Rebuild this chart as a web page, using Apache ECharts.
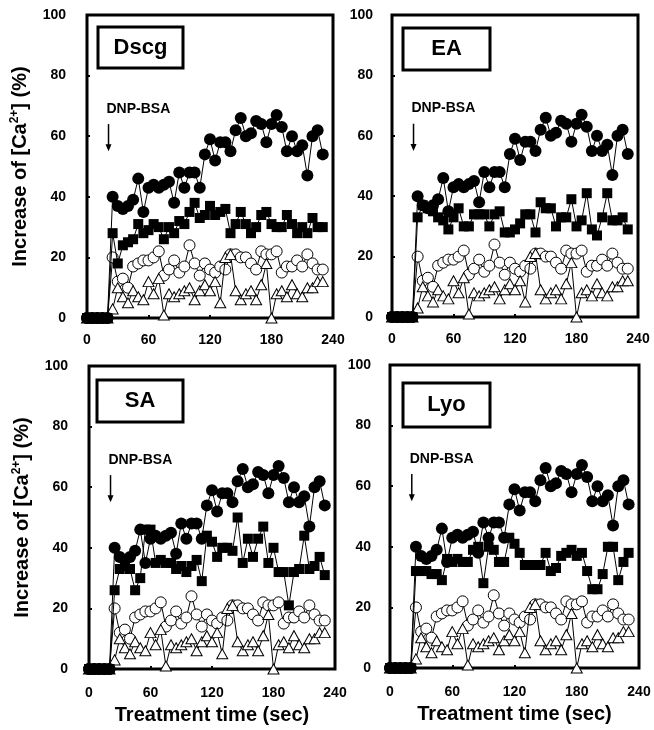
<!DOCTYPE html>
<html><head><meta charset="utf-8">
<script src="https://cdn.jsdelivr.net/npm/echarts@6/dist/echarts.min.js"></script>
<style>html,body{margin:0;padding:0;background:#fff}#c{width:654px;height:730px}</style>
</head><body><div id="c"></div>
<script>
const times = [0,5,10,15,20,25,30,35,40,45,50,55,60,65,70,75,80,85,90,95,100,105,110,115,120,125,130,135,140,145,150,155,160,165,170,175,180,185,190,195,200,205,210,215,220,225,230];
const control = [0,0,0,0,0,40,37,36,37,39,46,35,43,44,43,44,45,38,48,43,48,48,43,54,59,52,58,58,55,62,66,60,61,65,64,58,64,67,63,55,60,55,57,47,60,62,54];
const openCircle = [0,0,0,0,0,20,12,13,10,17,18,19,19,20,22,14,16,19,15,17,24,18,14,18,16,15,17,16,21,21,20,20,18,16,22,21,21,22,15,17,17,19,17,21,18,16,16];
const triangle = [0,0,0,0,0,3,10,7,5,9,7,6,12,8,13,1,8,7,8,9,10,6,9,11,9,12,5,20,21,9,6,8,9,6,11,18,0,8,9,7,11,8,7,10,10,12,12];
const dscg = [0,0,0,0,0,28,18,24,25,26,31,28,29,31,30,26,30,28,32,31,35,38,33,34,37,34,35,36,28,31,35,31,28,30,34,35,31,30,30,34,31,28,30,28,33,30,30];
const ea = [0,0,0,0,0,33,37,36,35,33,32,29,33,36,30,30,34,34,34,30,34,35,28,28,29,31,34,34,28,38,36,36,30,33,33,39,30,32,41,29,27,33,41,32,32,33,29];
const sa = [0,0,0,0,0,26,33,34,33,26,30,46,46,35,36,35,35,33,34,32,34,36,29,44,42,37,40,40,39,50,35,43,37,43,47,35,40,32,32,21,32,33,44,33,34,37,31];
const lyo = [0,0,0,0,0,32,32,32,31,31,29,36,35,36,35,35,39,40,28,40,39,35,35,43,41,38,34,34,34,34,38,32,33,37,38,39,37,38,32,26,26,31,40,40,29,35,38];
const panelNames = ['Dscg','EA','SA','Lyo'];
const panelSquares = [dscg, ea, sa, lyo];
const stimulusLabel = 'DNP-BSA';

const grids = [
  {left:87, top:15, width:246, height:303},
  {left:392, top:15, width:246, height:302},
  {left:89, top:366, width:246, height:303},
  {left:390, top:365, width:249, height:303}
];
const boxes = [
  {x:98, y:27, w:85, h:41},
  {x:403, y:28, w:87, h:42},
  {x:97, y:380, w:86, h:42},
  {x:403, y:383, w:87, h:44}
];
const FONT = '"Liberation Sans", Arial, sans-serif';
const pair = arr => times.map((t,j)=>[t, arr[j]]);

const xAxes = [], yAxes = [], series = [];
grids.forEach((g,i)=>{
  g.show = true; g.borderColor = '#000'; g.borderWidth = 3;
  const bottom = i >= 2, left = (i % 2 === 0);
  xAxes.push({
    type:'value', gridIndex:i, min:0, max:240, interval:60,
    axisLine:{show:false}, splitLine:{show:false},
    axisTick:{show:true, inside:true, length:3, lineStyle:{color:'#000', width:2}},
    axisLabel:{color:'#000', fontFamily:FONT, fontWeight:'bold', fontSize:14, margin: bottom ? 17 : 15},
    name: bottom ? 'Treatment time (sec)' : '', nameLocation:'middle', nameGap:36,
    nameTextStyle:{color:'#000', fontFamily:FONT, fontWeight:'bold', fontSize:20}
  });
  yAxes.push({
    type:'value', gridIndex:i, min:0, max:100, interval:20,
    axisLine:{show:false}, splitLine:{show:false},
    axisTick:{show:true, inside:true, length:3, lineStyle:{color:'#000', width:2}},
    axisLabel:{color:'#000', fontFamily:FONT, fontWeight:'bold', fontSize:14, margin: left ? 21 : 19},
    name: left ? 'Increase of [Ca{sup|2+}] (%)' : '', nameLocation:'middle', nameGap:55, nameRotate:90,
    nameTextStyle:{color:'#000', fontFamily:FONT, fontWeight:'bold', fontSize:20, lineHeight:23,
      rich:{sup:{fontFamily:FONT, fontWeight:'bold', fontSize:12, verticalAlign:'top', lineHeight:12, color:'#000'}}}
  });
  const common = {type:'line', xAxisIndex:i, yAxisIndex:i, showAllSymbol:true, animation:false,
    lineStyle:{color:'#000', width:1}};
  series.push(Object.assign({}, common, {name:'open circle', data:pair(openCircle), symbol:'circle', symbolSize:11,
    itemStyle:{color:'#fff', borderColor:'#000', borderWidth:1}, z:2}));
  series.push(Object.assign({}, common, {name:'triangle', data:pair(triangle), symbol:'triangle', symbolSize:[11,10],
    itemStyle:{color:'#fff', borderColor:'#000', borderWidth:1}, z:3}));
  series.push(Object.assign({}, common, {name:'square', data:pair(panelSquares[i]), symbol:'rect', symbolSize:10,
    itemStyle:{color:'#000', borderColor:'#000', borderWidth:0}, z:4}));
  series.push(Object.assign({}, common, {name:'control', data:pair(control), symbol:'circle', symbolSize:12,
    itemStyle:{color:'#000', borderColor:'#000', borderWidth:0}, z:5}));
});

const chart = echarts.init(document.getElementById('c'), null, {renderer:'canvas'});
chart.setOption({
  backgroundColor:'#fff', animation:false,
  grid:grids, xAxis:xAxes, yAxis:yAxes, series:series
});

const graphics = [];
boxes.forEach((b,i)=>{
  graphics.push({type:'rect', shape:{x:b.x, y:b.y, width:b.w, height:b.h}, style:{fill:'#fff', stroke:'#000', lineWidth:3}, z:100});
  graphics.push({type:'text', x:b.x + b.w/2, y:b.y + b.h/2, style:{text:panelNames[i], fill:'#000', font:'bold 22px ' + FONT, textAlign:'center', textVerticalAlign:'middle'}, z:101});
  const top = chart.convertToPixel({gridIndex:i}, [21, 64]);
  const tip = chart.convertToPixel({gridIndex:i}, [21, 55]);
  const txt = chart.convertToPixel({gridIndex:i}, [19, 69]);
  graphics.push({type:'text', x:txt[0], y:txt[1], style:{text:stimulusLabel, fill:'#000', font:'bold 14px ' + FONT, textAlign:'left', textVerticalAlign:'middle'}, z:101});
  graphics.push({type:'line', shape:{x1:top[0], y1:top[1], x2:tip[0], y2:tip[1]-3}, style:{stroke:'#000', lineWidth:1.5}, z:101});
  graphics.push({type:'polygon', shape:{points:[[tip[0]-3, tip[1]-7],[tip[0]+3, tip[1]-7],[tip[0], tip[1]]]}, style:{fill:'#000'}, z:101});
});
chart.setOption({graphic:graphics});
</script>
</body></html>
